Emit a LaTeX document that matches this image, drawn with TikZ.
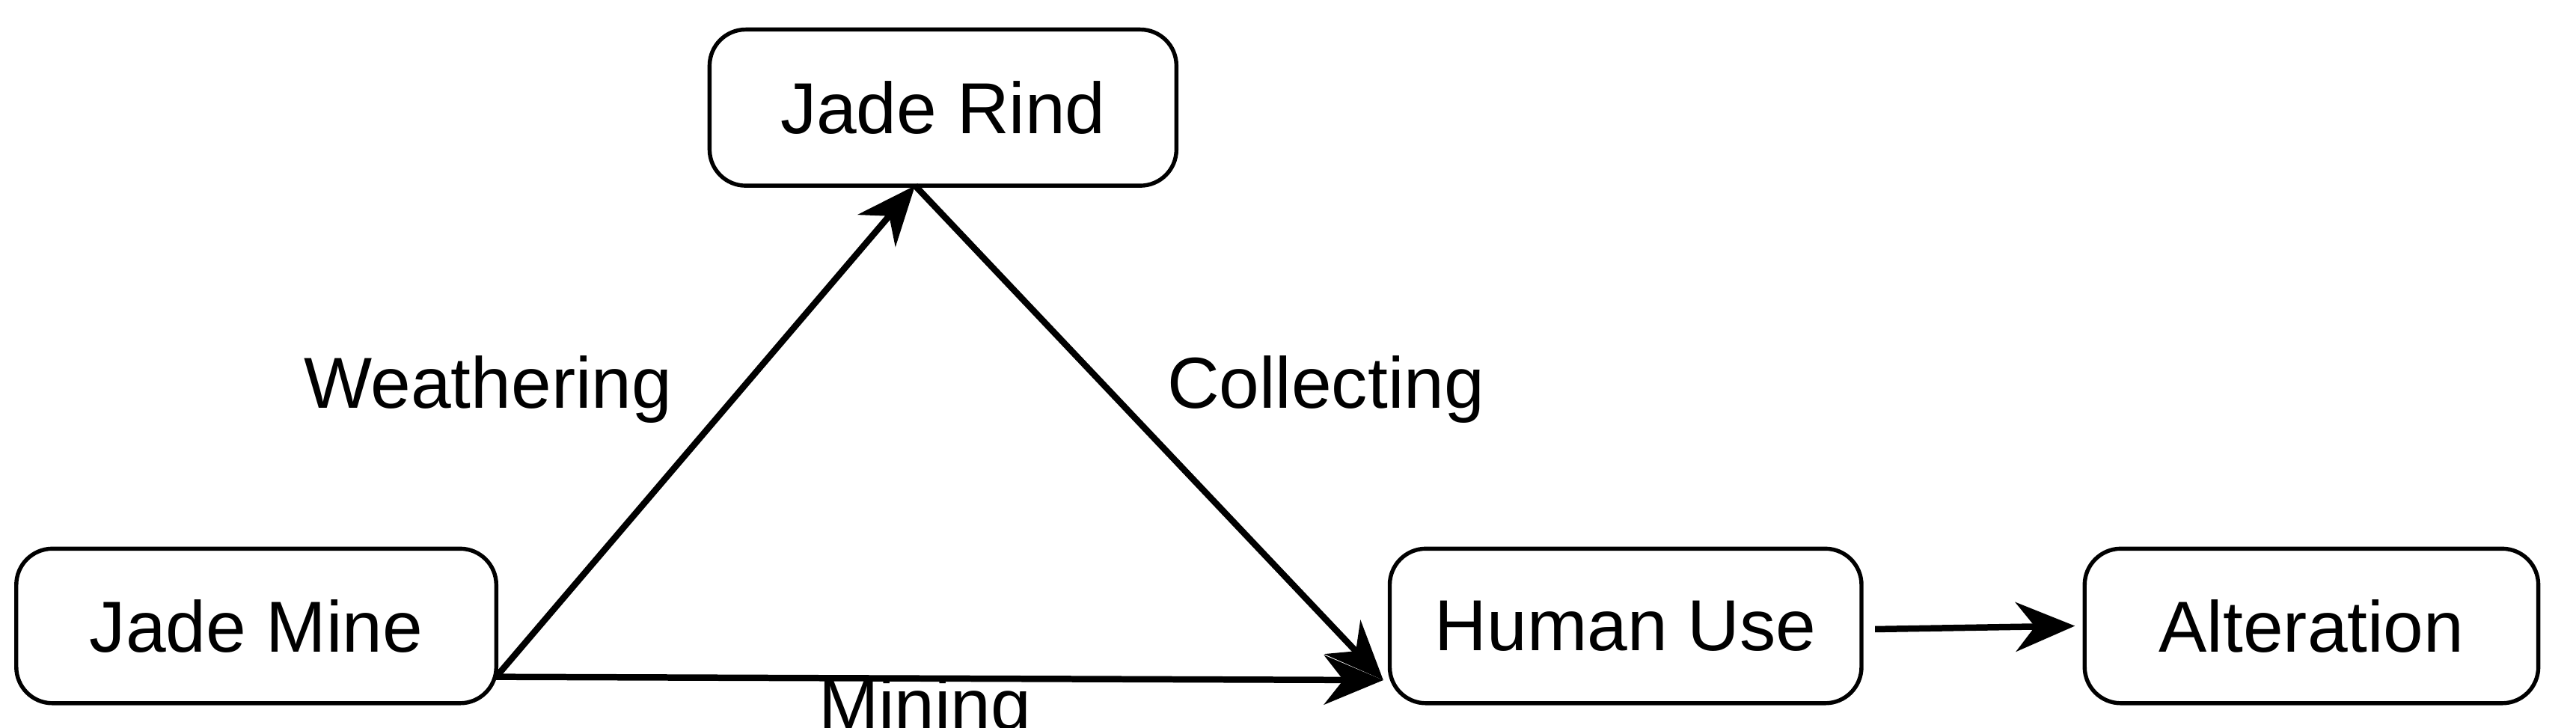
\documentclass[tikz,border=0pt]{standalone}
\usepackage{fontspec}
\setmainfont{Liberation Sans}
\usetikzlibrary{arrows.meta}
\begin{document}
\begin{tikzpicture}[x=0.01cm,y=-0.01cm,
  box/.style={draw,line width=0.7pt,rounded corners=0.22cm,inner sep=0pt,font=\fontsize{12.5}{14}\selectfont},
  arr/.style={line width=1.1pt,-{Stealth[length=0.36cm,width=0.3cm]}},
  lbl/.style={font=\fontsize{12.5}{14}\selectfont}]
\useasboundingbox (0,0) rectangle (1568,443);
\node[box,minimum width=2.92cm,minimum height=0.94cm] (mine) at (156,381) {Jade Mine};
\node[box,minimum width=2.84cm,minimum height=0.95cm] (rind) at (574,65.5) {Jade Rind};
\node[box,minimum width=2.87cm,minimum height=0.94cm] (use) at (989.5,381) {Human Use};
\node[box,minimum width=2.76cm,minimum height=0.94cm] (alt) at (1407,381) {Alteration};
\coordinate (mr) at (302,412);
\coordinate (rb) at (557,113);
\coordinate (ul) at (842,414);
\draw[arr] (mr) -- (rb);
\draw[arr] (rb) -- (ul);
\draw[arr] (mr) -- (ul);
\draw[arr] (use.east) ++(7,2) coordinate (ue) (ue) -- (alt.west-|1263,0) ;
\node[lbl] (w) at (297,237) {Weathering};
\node[lbl] (c) at (807,237) {Collecting};
\node[lbl] (m) at (563,433) {Mining};
\end{tikzpicture}
\end{document}
